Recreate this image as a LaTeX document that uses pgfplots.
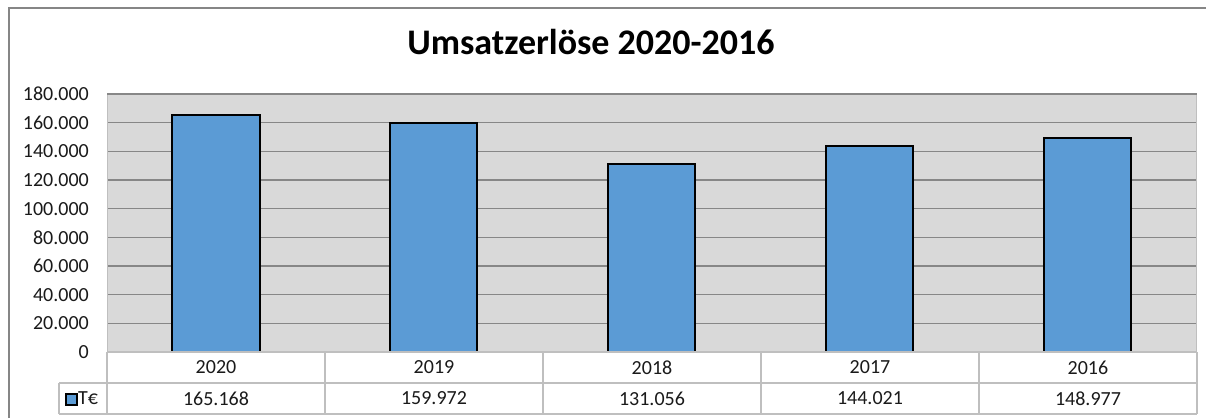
\documentclass[border=0pt]{standalone}
\usepackage{pgfplots}
\pgfplotsset{compat=1.18}
\usepackage{fontspec}
\setmainfont{Carlito}
\definecolor{barblue}{HTML}{5B9BD5}
\definecolor{plotbg}{HTML}{D9D9D9}
\definecolor{gridc}{HTML}{878787}
\definecolor{tabc}{HTML}{BFBFBF}
\definecolor{framec}{HTML}{868686}
\definecolor{txt}{HTML}{1A1A1A}
\begin{document}
\begin{tikzpicture}[x=1bp,y=1bp]
\useasboundingbox (0,0) rectangle (1206,418);
\fill[white] (0,0) rectangle (1206,418);
\draw[framec, line width=1.2bp] (9,0) -- (9,410) -- (1206,410);
\node[anchor=base, font=\fontsize{36bp}{42bp}\selectfont\bfseries, text=black] at (591,364) {Umsatzerlöse 2020-2016};
\begin{axis}[
  at={(107bp,66bp)}, anchor=south west,
  width=1090bp, height=258bp, scale only axis,
  xmin=-0.5, xmax=4.5, ymin=0, ymax=180000,
  ytick={0,20000,40000,60000,80000,100000,120000,140000,160000,180000},
  xtick={0,1,2,3,4},
  xticklabels={2020,2019,2018,2017,2016},
  major tick length=0pt,
  axis background/.style={fill=plotbg},
  axis line style={draw=tabc, line width=1bp},
  ymajorgrids, grid style={gridc, line width=1.2bp},
  scaled y ticks=false,
  yticklabel={\pgfmathprintnumber[fixed, precision=0, 1000 sep={.}, assume math mode=true]{\tick}},
  ticklabel style={font=\fontsize{20bp}{24bp}\selectfont, text=txt},
  yticklabel style={inner sep=0pt, xshift=-18bp},
  xticklabel style={anchor=center, inner sep=0pt, yshift=-15.5bp},
  clip=false,
]
\addplot[ybar, bar width=87bp, fill=barblue, draw=black, line width=2bp]
  coordinates {(0,165168) (1,159972) (2,131056) (3,144021) (4,148977)};
\end{axis}
% data table
\begin{scope}[tabc, line width=1.2bp]
\draw (107,66) -- (1197,66);
\draw (59,35) -- (1197,35);
\draw (59,4) -- (1197,4);
\draw (59,35) -- (59,4);
\foreach \xx in {107,325,543,761,979,1197} {\draw (\xx,66) -- (\xx,4);}
\end{scope}
\draw[gridc, line width=1.2bp] (107,324) -- (1197,324);
\begin{scope}[font=\fontsize{20bp}{24bp}\selectfont, text=txt]
\node at (216,19.5) {165.168};
\node at (434,19.5) {159.972};
\node at (652,19.5) {131.056};
\node at (870,19.5) {144.021};
\node at (1088,19.5) {148.977};
\node[anchor=west, inner sep=0pt] at (78,19.5) {T€};
\end{scope}
\draw[fill=barblue, draw=black, line width=2bp] (65.5,13.5) rectangle (76.5,24.5);
\end{tikzpicture}
\end{document}
